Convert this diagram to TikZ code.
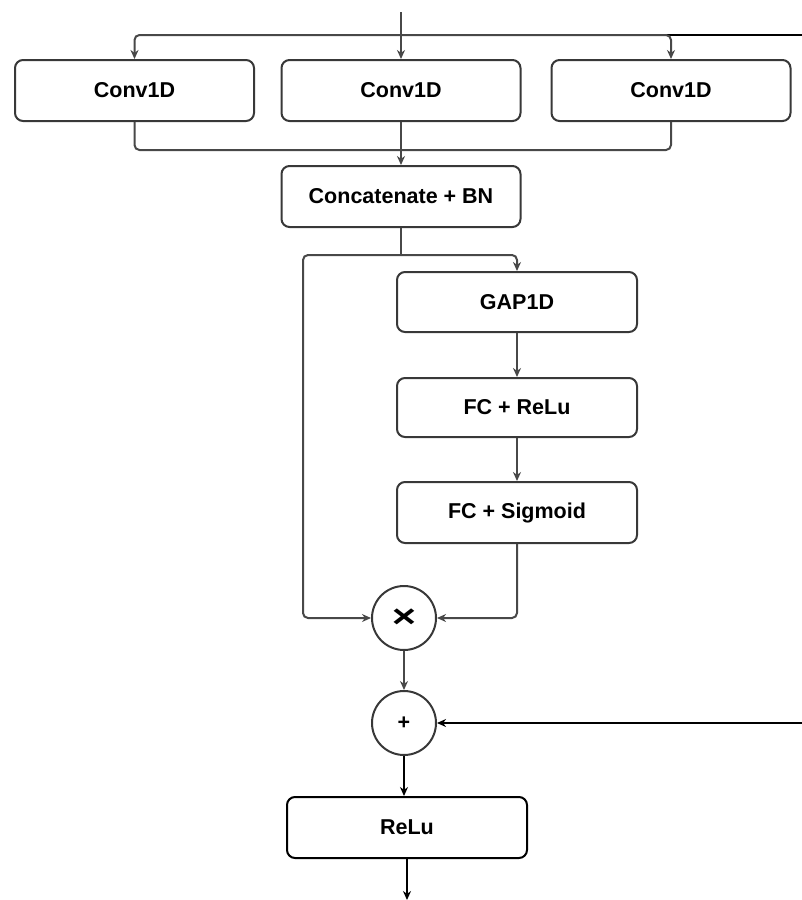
\documentclass[tikz,border=0pt]{standalone}
\usepackage{fontspec}
\setmainfont{Liberation Sans}
\usetikzlibrary{arrows.meta}
\definecolor{lineg}{HTML}{484848}
\definecolor{boxg}{HTML}{383838}
\tikzset{
  blk/.style={draw=boxg, line width=2pt, rounded corners=8pt, minimum width=239pt, minimum height=61pt, inner sep=0pt, font=\fontsize{21.5}{21.5}\selectfont\bfseries},
  blkk/.style={blk, draw=black},
  opc/.style={draw=boxg, line width=2pt, circle, minimum size=64pt, inner sep=0pt, font=\fontsize{21.5}{21.5}\selectfont\bfseries},
  conn/.style={draw=lineg, line width=2pt, rounded corners=5pt},
  arr/.style={conn, -{Stealth[length=9pt,width=8pt]}},
  res/.style={draw=black, line width=2pt},
  resarr/.style={res, -{Stealth[length=9pt,width=8pt]}}
}
\begin{document}
\begin{tikzpicture}[x=1pt,y=-1pt]
\useasboundingbox (0,0) rectangle (802,900);
% nodes
\node[blk] (c1) at (134.5,90.5) {Conv1D};
\node[blk] (c2) at (401,90.5) {Conv1D};
\node[blk] (c3) at (671,90.5) {Conv1D};
\node[blk] (cat) at (401,196.5) {Concatenate + BN};
\node[blk, minimum width=240pt, minimum height=60pt] (gap) at (517,302) {GAP1D};
\node[blk, minimum width=240pt, minimum height=59pt] (fc1) at (517,407.5) {FC + ReLu};
\node[blk, minimum width=240pt] (fc2) at (517,512.5) {FC + Sigmoid};
\node[opc] (mul) at (404,618) {\fontsize{32}{32}\selectfont\bfseries \scalebox{1.3}[1]{×}};
\node[opc] (add) at (404,723) {+};
\node[blkk, minimum width=240pt] (relu) at (407,827.5) {ReLu};
% coordinates
\coordinate (in) at (401,12);
\coordinate (sp) at (401,35);
\coordinate (skipA) at (802,35);
\coordinate (skipB) at (802,723);
\coordinate (join) at (401,150);
\coordinate (br) at (401,255);
\coordinate (leftA) at (303,255);
\coordinate (leftB) at (303,618);
\coordinate (out) at (407,900);
% connectors
\draw[res] (sp) -- (skipA);
\draw[arr] (in) -- (c2.north);
\draw[arr] (sp) -| (c1.north);
\draw[arr] (sp) -| (c3.north);
\draw[conn] (c1.south) |- (join) -| (c3.south);
\draw[arr] (c2.south) -- (cat.north);
\draw[conn] (cat.south) -- (br);
\draw[arr] (br) -| (gap.north);
\draw[arr] (br) -- (leftA) -- (leftB) -- (mul.west);
\draw[arr] (gap) -- (fc1);
\draw[arr] (fc1) -- (fc2);
\draw[arr] (fc2.south) |- (mul.east);
\draw[arr] (mul) -- (add);
\draw[resarr] (skipB) -- (add.east);
\draw[resarr] (add.south) -- (add.south |- relu.north);
\draw[resarr] (relu.south -| out) -- (out);
\end{tikzpicture}
\end{document}
